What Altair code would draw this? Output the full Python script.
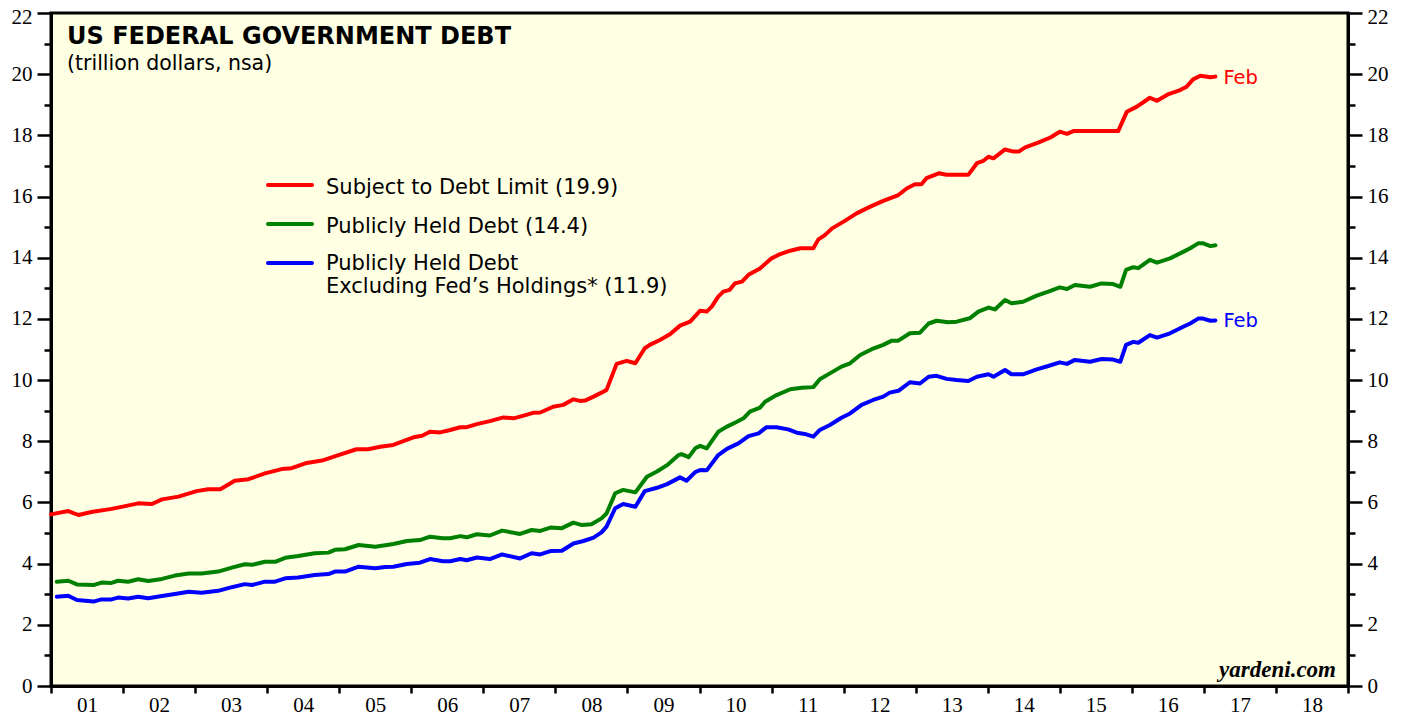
import altair as alt
import pandas as pd

# ---- data (decimal year, trillion dollars) ----
red_t = [2001.00, 2001.24, 2001.38, 2001.56, 2001.84, 2002.03, 2002.21, 2002.40, 2002.54, 2002.77,
         2003.02, 2003.18, 2003.35, 2003.55, 2003.74, 2003.97, 2004.20, 2004.34, 2004.53, 2004.76,
         2004.99, 2005.24, 2005.40, 2005.57, 2005.75, 2006.03, 2006.15, 2006.26, 2006.40, 2006.54,
         2006.68, 2006.77, 2006.91, 2007.09, 2007.28, 2007.42, 2007.56, 2007.69, 2007.79, 2007.97,
         2008.11, 2008.25, 2008.34, 2008.41, 2008.53, 2008.64, 2008.71, 2008.85, 2008.99, 2009.11,
         2009.24, 2009.31, 2009.45, 2009.59, 2009.73, 2009.87, 2010.01, 2010.10, 2010.17, 2010.26,
         2010.33, 2010.42, 2010.49, 2010.59, 2010.68, 2010.84, 2011.00, 2011.12, 2011.26, 2011.40,
         2011.58, 2011.65, 2011.74, 2011.84, 2012.00, 2012.18, 2012.37, 2012.55, 2012.76, 2012.88,
         2012.99, 2013.08, 2013.15, 2013.32, 2013.43, 2013.73, 2013.85, 2013.94, 2014.01, 2014.08,
         2014.24, 2014.36, 2014.43, 2014.52, 2014.70, 2014.87, 2015.00, 2015.10, 2015.19, 2015.81,
         2015.93, 2016.07, 2016.25, 2016.35, 2016.51, 2016.67, 2016.76, 2016.85, 2016.95, 2017.09,
         2017.16]
red_v = [5.61, 5.72, 5.59, 5.69, 5.79, 5.88, 5.97, 5.95, 6.10, 6.19,
         6.37, 6.43, 6.43, 6.71, 6.76, 6.95, 7.09, 7.12, 7.28, 7.37,
         7.55, 7.74, 7.74, 7.82, 7.88, 8.13, 8.18, 8.31, 8.29, 8.37,
         8.46, 8.46, 8.56, 8.66, 8.78, 8.75, 8.84, 8.93, 8.94, 9.13,
         9.19, 9.37, 9.32, 9.33, 9.46, 9.59, 9.68, 10.53, 10.63, 10.55,
         11.04, 11.15, 11.31, 11.50, 11.78, 11.91, 12.27, 12.24, 12.40, 12.73,
         12.89, 12.95, 13.16, 13.22, 13.44, 13.65, 13.98, 14.12, 14.23, 14.31,
         14.31, 14.60, 14.74, 14.96, 15.18, 15.45, 15.67, 15.86, 16.05, 16.27,
         16.40, 16.40, 16.60, 16.76, 16.71, 16.71, 17.09, 17.17, 17.30, 17.25,
         17.54, 17.47, 17.47, 17.61, 17.76, 17.93, 18.12, 18.05, 18.14, 18.14,
         18.77, 18.94, 19.23, 19.13, 19.35, 19.48, 19.59, 19.83, 19.95, 19.90,
         19.92]

pub_t = [2001.08, 2001.24, 2001.36, 2001.59, 2001.70, 2001.84, 2001.93, 2002.07, 2002.21, 2002.35,
         2002.54, 2002.72, 2002.91, 2003.09, 2003.32, 2003.51, 2003.69, 2003.79, 2003.97, 2004.11,
         2004.25, 2004.43, 2004.66, 2004.85, 2004.94, 2005.08, 2005.27, 2005.50, 2005.64, 2005.75,
         2005.94, 2006.12, 2006.26, 2006.44, 2006.54, 2006.68, 2006.77, 2006.91, 2007.09, 2007.26,
         2007.51, 2007.67, 2007.79, 2007.93, 2008.09, 2008.25, 2008.37, 2008.50, 2008.64, 2008.71,
         2008.83, 2008.94, 2009.11, 2009.27, 2009.41, 2009.55, 2009.71, 2009.75, 2009.85, 2009.94,
         2010.01, 2010.10, 2010.26, 2010.38, 2010.52, 2010.61, 2010.70, 2010.84, 2010.91, 2011.07,
         2011.26, 2011.42, 2011.58, 2011.67, 2011.81, 2011.97, 2012.09, 2012.23, 2012.39, 2012.55,
         2012.67, 2012.76, 2012.92, 2013.06, 2013.18, 2013.29, 2013.45, 2013.57, 2013.75, 2013.87,
         2014.01, 2014.10, 2014.24, 2014.33, 2014.49, 2014.68, 2014.84, 2015.00, 2015.10, 2015.21,
         2015.42, 2015.58, 2015.74, 2015.84, 2015.92, 2016.02, 2016.09, 2016.25, 2016.35, 2016.53,
         2016.72, 2016.81, 2016.92, 2016.99, 2017.09, 2017.16]
pub_v = [3.41, 3.44, 3.32, 3.30, 3.38, 3.37, 3.44, 3.41, 3.49, 3.43,
         3.50, 3.61, 3.68, 3.68, 3.74, 3.87, 3.98, 3.96, 4.06, 4.06,
         4.19, 4.25, 4.34, 4.36, 4.45, 4.47, 4.61, 4.55, 4.60, 4.64,
         4.74, 4.77, 4.88, 4.83, 4.83, 4.90, 4.86, 4.96, 4.92, 5.08,
         4.97, 5.10, 5.07, 5.18, 5.16, 5.34, 5.26, 5.29, 5.48, 5.64,
         6.30, 6.41, 6.33, 6.84, 7.01, 7.22, 7.55, 7.58, 7.48, 7.77,
         7.85, 7.77, 8.31, 8.48, 8.64, 8.75, 8.97, 9.10, 9.29, 9.51,
         9.70, 9.75, 9.77, 10.03, 10.22, 10.44, 10.55, 10.82, 11.01, 11.15,
         11.29, 11.29, 11.53, 11.55, 11.85, 11.94, 11.89, 11.91, 12.02, 12.24,
         12.37, 12.31, 12.62, 12.51, 12.56, 12.76, 12.89, 13.03, 12.98, 13.11,
         13.05, 13.16, 13.14, 13.05, 13.60, 13.69, 13.66, 13.93, 13.84, 13.98,
         14.20, 14.31, 14.47, 14.47, 14.38, 14.41]

exfed_t = [2001.08, 2001.24, 2001.36, 2001.59, 2001.70, 2001.84, 2001.93, 2002.07, 2002.21, 2002.35,
           2002.54, 2002.72, 2002.91, 2003.09, 2003.32, 2003.51, 2003.69, 2003.79, 2003.97, 2004.11,
           2004.25, 2004.43, 2004.66, 2004.85, 2004.94, 2005.08, 2005.27, 2005.50, 2005.64, 2005.75,
           2005.94, 2006.12, 2006.26, 2006.44, 2006.54, 2006.68, 2006.77, 2006.91, 2007.09, 2007.26,
           2007.51, 2007.67, 2007.79, 2007.93, 2008.09, 2008.25, 2008.39, 2008.53, 2008.64, 2008.71,
           2008.83, 2008.94, 2009.11, 2009.24, 2009.41, 2009.55, 2009.73, 2009.82, 2009.94, 2010.01,
           2010.10, 2010.26, 2010.38, 2010.54, 2010.68, 2010.82, 2010.93, 2011.07, 2011.23, 2011.35,
           2011.46, 2011.58, 2011.67, 2011.81, 2011.97, 2012.09, 2012.25, 2012.41, 2012.55, 2012.64,
           2012.76, 2012.92, 2013.06, 2013.18, 2013.29, 2013.43, 2013.57, 2013.73, 2013.85, 2014.01,
           2014.08, 2014.24, 2014.33, 2014.49, 2014.68, 2014.84, 2015.00, 2015.10, 2015.21, 2015.42,
           2015.58, 2015.74, 2015.84, 2015.92, 2016.02, 2016.09, 2016.25, 2016.35, 2016.53, 2016.72,
           2016.81, 2016.92, 2016.99, 2017.09, 2017.16]
exfed_v = [2.92, 2.95, 2.81, 2.76, 2.83, 2.83, 2.89, 2.86, 2.92, 2.87,
           2.94, 3.01, 3.08, 3.05, 3.11, 3.23, 3.33, 3.30, 3.41, 3.41,
           3.52, 3.55, 3.63, 3.66, 3.74, 3.74, 3.90, 3.85, 3.89, 3.90,
           3.99, 4.03, 4.15, 4.08, 4.08, 4.15, 4.11, 4.20, 4.15, 4.30,
           4.17, 4.34, 4.30, 4.41, 4.42, 4.66, 4.74, 4.85, 5.02, 5.21,
           5.81, 5.95, 5.86, 6.37, 6.48, 6.60, 6.82, 6.71, 6.99, 7.06,
           7.05, 7.55, 7.75, 7.93, 8.17, 8.26, 8.46, 8.46, 8.39, 8.28,
           8.24, 8.15, 8.37, 8.53, 8.77, 8.91, 9.19, 9.35, 9.46, 9.59,
           9.65, 9.93, 9.89, 10.11, 10.14, 10.04, 10.00, 9.97, 10.11, 10.19,
           10.11, 10.33, 10.19, 10.19, 10.35, 10.46, 10.58, 10.53, 10.66, 10.60,
           10.69, 10.67, 10.60, 11.15, 11.25, 11.22, 11.47, 11.39, 11.53, 11.75,
           11.85, 12.01, 12.01, 11.94, 11.95]

series_names = ["Subject to Debt Limit", "Publicly Held Debt", "Publicly Held Debt Excluding Fed's Holdings"]
series_colors = ["#FF0000", "#008000", "#0000FF"]
legend_labels = ["Subject to Debt Limit (19.9)", "Publicly Held Debt (14.4)",
                 "Publicly Held Debt\nExcluding Fed\u2019s Holdings* (11.9)"]
year_ticks = list(range(2001, 2020))
y_ticks = list(range(0, 23))

rows = []
for name, ts, vs in zip(series_names, [red_t, pub_t, exfed_t], [red_v, pub_v, exfed_v]):
    for t, v in zip(ts, vs):
        rows.append({"series": name, "t": t, "v": v})
df = pd.DataFrame(rows)

feb_df = pd.DataFrame({
    "series": [series_names[0], series_names[2]],
    "t": [red_t[-1], exfed_t[-1]],
    "v": [red_v[-1], exfed_v[-1]],
    "label": ["Feb", "Feb"],
})

SANS = "DejaVu Sans"
SERIF = "Liberation Serif"

xscale = alt.Scale(domain=[2001, 2019], nice=False, zero=False)
yscale = alt.Scale(domain=[0, 22], nice=False, zero=True)
color = alt.Color("series:N", scale=alt.Scale(domain=series_names, range=series_colors), legend=None)

x_enc = alt.X("t:Q", scale=xscale, title=None,
              axis=alt.Axis(values=year_ticks, tickSize=7, labelOffset=36, labelPadding=1,
                            labelExpr="datum.value >= 2019 ? '' : slice(toString(datum.value), 2)",
                            labelOverlap=False, labelFlush=False))

tick_cond = {"condition": {"test": "datum.value % 2 == 0", "value": 14}, "value": 7}
offset_cond = {"condition": {"test": "datum.value == 22", "value": 4}, "value": 0}
label_expr = "datum.value % 2 == 0 ? datum.label : ''"


def y_axis(orient):
    return alt.Axis(orient=orient, values=y_ticks, tickSize=tick_cond, labelExpr=label_expr,
                    labelOffset=offset_cond, labelPadding=5, labelOverlap=False, labelFlush=False)


lines = alt.Chart(df).mark_line(strokeWidth=4, strokeJoin="round", strokeCap="round").encode(
    x=x_enc,
    y=alt.Y("v:Q", scale=yscale, title=None, axis=y_axis("left")),
    color=color,
    detail="series:N",
)

right_axis = alt.Chart(df).mark_line(opacity=0).encode(
    x=x_enc,
    y=alt.Y("v:Q", scale=yscale, title=None, axis=y_axis("right")),
    detail="series:N",
)

feb = alt.Chart(feb_df).mark_text(align="left", baseline="alphabetic", dx=8, dy=7,
                                  font=SANS, fontSize=19.5).encode(
    x=x_enc,
    y=alt.Y("v:Q", scale=yscale, axis=None),
    text="label:N",
    color=color,
)

one = pd.DataFrame({"k": [0]})

title = alt.Chart(one).mark_text(align="left", baseline="alphabetic", font=SANS, fontSize=24,
                                 fontWeight="bold", color="black").encode(
    x=alt.value(16), y=alt.value(31), text=alt.value("US FEDERAL GOVERNMENT DEBT"))
subtitle = alt.Chart(one).mark_text(align="left", baseline="alphabetic", font=SANS, fontSize=20.5,
                                    color="black").encode(
    x=alt.value(16), y=alt.value(57), text=alt.value("(trillion dollars, nsa)"))

legend_line_y = [172, 211, 250]
legend_text_y = [181, 220, 257]
legend_layers = []
for i in range(3):
    legend_layers.append(alt.Chart(one).mark_rule(strokeWidth=4, strokeCap="round").encode(
        x=alt.value(217), x2=alt.value(261), y=alt.value(legend_line_y[i]),
        color=alt.value(series_colors[i])))
    legend_layers.append(alt.Chart(one).mark_text(align="left", baseline="alphabetic", font=SANS,
                                                  fontSize=21, lineHeight=23, lineBreak="\n",
                                                  color="black").encode(
        x=alt.value(275), y=alt.value(legend_text_y[i]), text=alt.value(legend_labels[i])))

source = alt.Chart(one).mark_text(align="right", baseline="alphabetic", font=SERIF, fontSize=23,
                                  fontWeight="bold", fontStyle="italic", color="black").encode(
    x=alt.value(1285), y=alt.value(664), text=alt.value("yardeni.com"))

chart = alt.layer(lines, right_axis, feb, title, subtitle, *legend_layers, source).resolve_axis(
    y="independent"
).properties(
    width=1297, height=673,
    autosize=alt.AutoSizeParams(type="none"),
    padding={"left": 43, "top": 5, "right": 45, "bottom": 31},
    background="white",
).configure_view(
    fill="#FFFFE3", stroke="black", strokeWidth=3,
).configure_axis(
    domainColor="black", domainWidth=3, tickColor="black", tickWidth=2.5,
    labelFont=SERIF, labelFontSize=21, labelColor="black", grid=False,
)

chart.save("out.html", embed_options={"renderer": "svg", "actions": False})
